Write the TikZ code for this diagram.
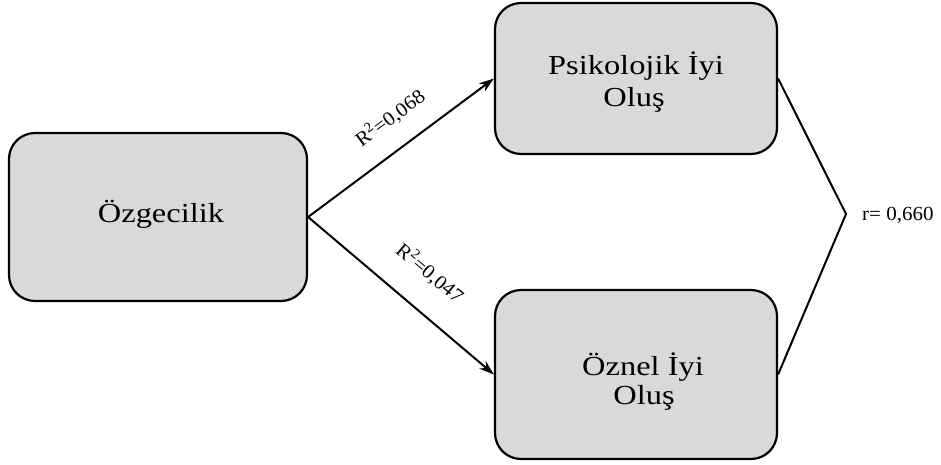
\documentclass[tikz,border=0pt]{standalone}
\usepackage{fontspec}
\setmainfont{Liberation Serif}
\newfontfamily\boxfont[FakeStretch=1.18]{Liberation Serif}
\newfontfamily\lblfont[FakeStretch=1.05]{Liberation Serif}
\usetikzlibrary{arrows.meta}
\definecolor{boxgray}{HTML}{D9D9D9}
\tikzset{
  box/.style={draw=black, line width=2.2pt, fill=boxgray, rounded corners=26pt, inner sep=0pt},
  btxt/.style={inner sep=0pt, font=\boxfont\fontsize{27.5}{32}\selectfont},
  lbl/.style={inner sep=0pt, font=\lblfont\fontsize{20}{22}\selectfont},
  arr/.style={line width=2pt, -{Stealth[length=15pt,width=10pt]}},
  corr/.style={line width=2pt}
}
\begin{document}
\begin{tikzpicture}[x=1pt,y=-1pt]
\useasboundingbox (0,0) rectangle (941,465);
% boxes
\node[box, minimum width=298pt, minimum height=168pt] (src) at (158,217) {};
\node[box, minimum width=282pt, minimum height=151pt] (psy) at (636,78.5) {};
\node[box, minimum width=282pt, minimum height=169pt] (sub) at (636,374.5) {};
% texts
\node[btxt, anchor=base] (srct) at (161,222) {Özgecilik};
\node[btxt, anchor=base] (psyt1) at (636,75) {Psikolojik İyi};
\node[btxt, anchor=base] (psyt2) at (634,107) {Oluş};
\node[btxt, anchor=base] (subt1) at (643,375) {Öznel İyi};
\node[btxt, anchor=base] (subt2) at (644,404) {Oluş};
% arrows
\draw[arr] (src.east) -- (psy.west);
\draw[arr] (src.east) -- (sub.west);
\node[lbl, rotate=36.5] (r1) at (390,118) {R\textsuperscript{2}=0,068};
\node[lbl, rotate=-40] (r2) at (430,273) {R\textsuperscript{2}=0,047};
% correlation
\coordinate (apex) at (846,214);
\draw[corr] (psy.east) -- (apex) -- (sub.east);
\node[lbl, anchor=west] (rr) at (862,215) {r= 0,660};
\end{tikzpicture}
\end{document}
